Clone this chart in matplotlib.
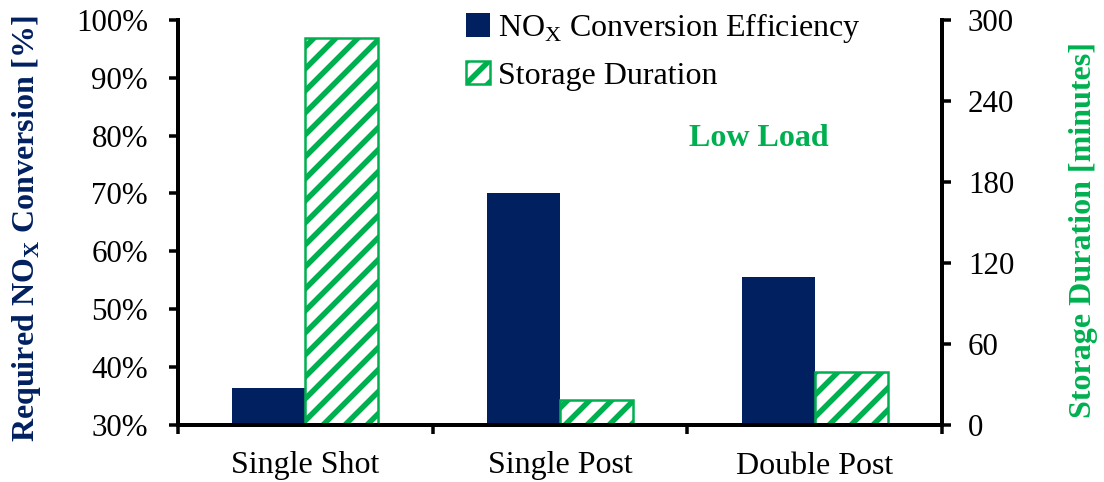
import matplotlib.pyplot as plt
import numpy as np

# data
categories = ['Single Shot', 'Single Post', 'Double Post']
conversion = [36.3, 70.0, 55.6]       # % (left axis)
storage = [286.5, 18.2, 39.2]         # minutes (right axis)
left_ticks = [30, 40, 50, 60, 70, 80, 90, 100]
right_ticks = [0, 60, 120, 180, 240, 300]

navy = '#002060'
green = '#00B050'

DPI = 132
W, H = 1104, 482


def pt(px):
    # pixels -> points at this dpi
    return px * 72 / DPI


plt.rcParams['font.family'] = ['Liberation Serif', 'DejaVu Serif']
plt.rcParams['mathtext.fontset'] = 'custom'
plt.rcParams['mathtext.rm'] = 'Liberation Serif'
plt.rcParams['mathtext.bf'] = 'Liberation Serif:bold'
plt.rcParams['hatch.linewidth'] = pt(5.5)
plt.rcParams['hatch.color'] = green

fs = pt(32)
fs_tick = pt(31)

fig = plt.figure(figsize=(W / DPI, H / DPI), dpi=DPI)
ax = fig.add_axes([178 / W, 1 - 424.5 / H, (942 - 178) / W, (424.5 - 20) / H])
ax2 = ax.twinx()

x = np.arange(len(categories))
bw = 0.287
b1 = ax.bar(x - bw / 2, conversion, bw, color=navy, zorder=2,
            label='NO$_\\mathrm{X}$ Conversion Efficiency')
b2 = ax2.bar(x + bw / 2, storage, bw, facecolor='white', edgecolor=green,
             hatch='//', linewidth=pt(2.5), zorder=2, label='Storage Duration')

ax.set_xlim(-0.5, 2.5)
ax.set_ylim(30, 100)
ax2.set_ylim(0, 300)
ax.set_yticks(left_ticks)
ax.set_yticklabels([f'{v}%' for v in left_ticks])
ax2.set_yticks(right_ticks)

ax.set_xticks([-0.5, 0.5, 1.5, 2.5])
ax.set_xticklabels([])
ax.set_xticks(x, minor=True)
ax.set_xticklabels(categories, minor=True)
ax.tick_params(axis='x', which='minor', length=0, pad=pt(27), labelsize=fs)
ax.tick_params(axis='x', which='major', length=pt(9), width=pt(3.5), direction='out')
ax.tick_params(axis='y', length=pt(9), width=pt(3.5), direction='out', labelsize=fs_tick, pad=pt(21))
ax2.tick_params(axis='y', length=pt(9), width=pt(3.5), direction='out', labelsize=fs_tick, pad=pt(17))

for a in (ax, ax2):
    a.spines['top'].set_visible(False)
    for s in ('left', 'right', 'bottom'):
        a.spines[s].set_linewidth(pt(4))

fig.text(27 / W, 1 - 229 / H, 'Required NO$_\\mathbf{X}$ Conversion [%]',
         rotation=90, ha='center', va='center', color=navy,
         fontsize=fs, fontweight='bold')
fig.text(1083 / W, 1 - 230 / H, 'Storage Duration [minutes]',
         rotation=90, ha='center', va='center', color=green,
         fontsize=fs, fontweight='bold')

fig.text(759 / W, 1 - 138 / H, 'Low Load', ha='center', va='center',
         color=green, fontsize=fs, fontweight='bold')

fig.legend([b1, b2], [b1.get_label(), b2.get_label()],
           loc='upper left', bbox_to_anchor=(466 / W, 1 - 11 / H),
           frameon=False, fontsize=fs, handlelength=0.75, handleheight=0.75,
           handletextpad=0.25, labelspacing=0.5, borderaxespad=0,
           borderpad=0)

fig.savefig('out.png', dpi=DPI)
